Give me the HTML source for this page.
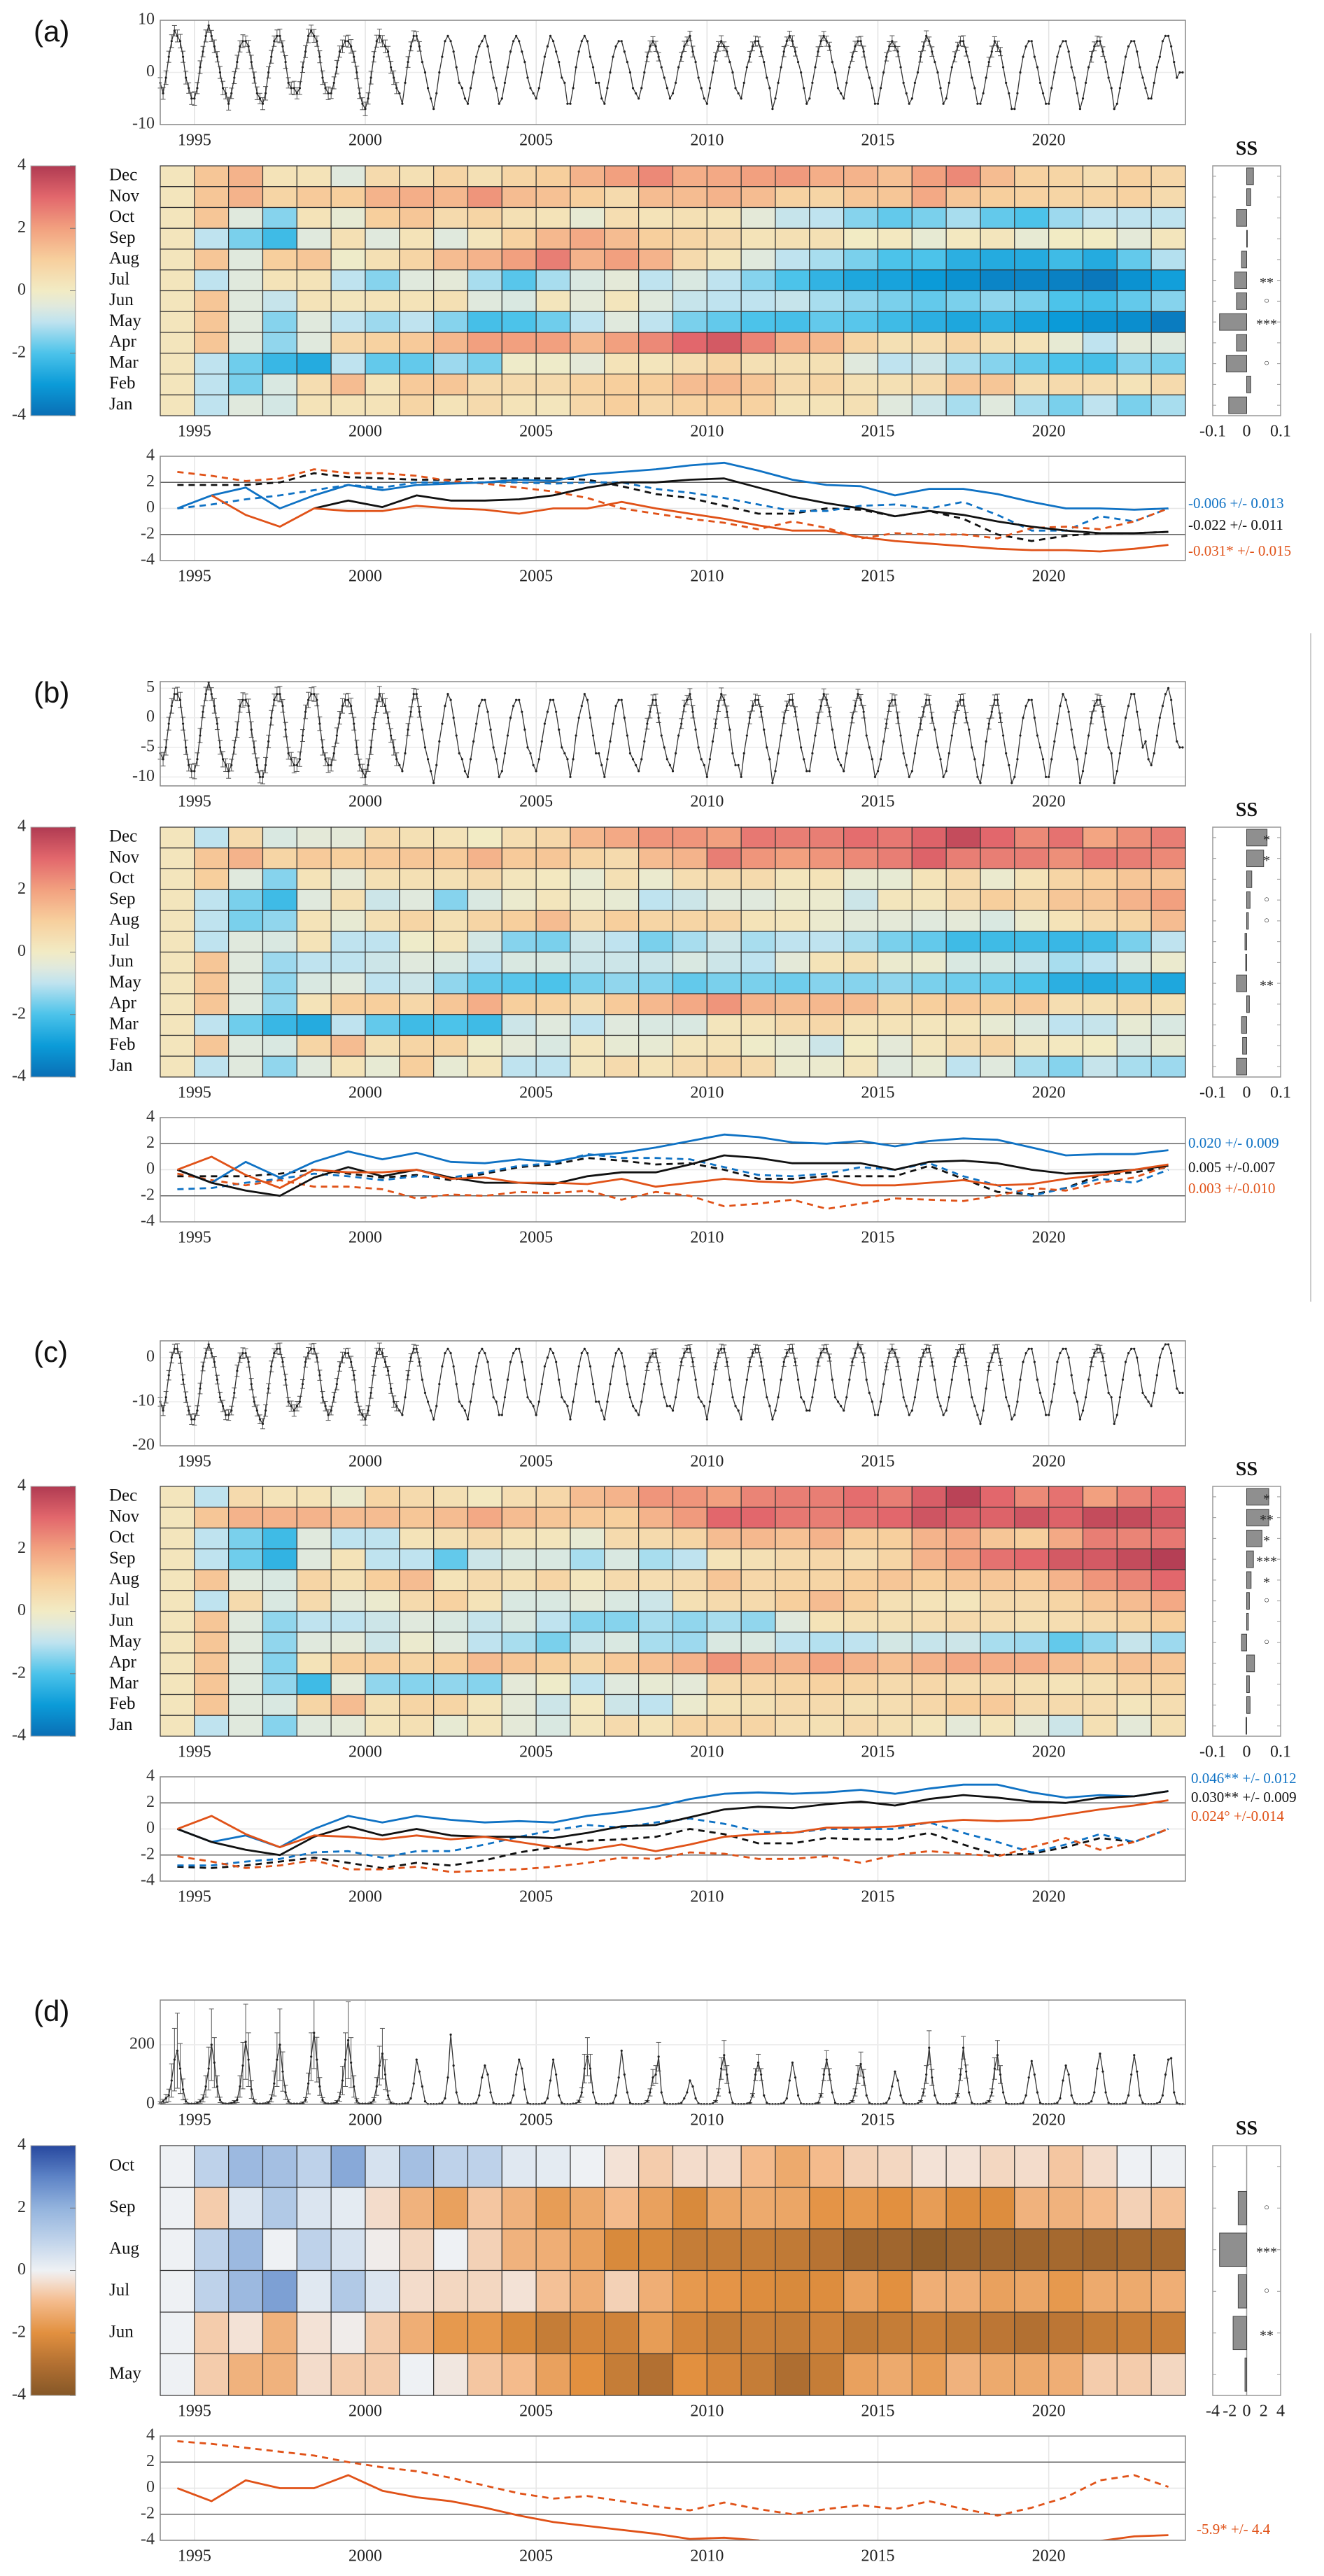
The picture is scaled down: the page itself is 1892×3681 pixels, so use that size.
<!DOCTYPE html>
<html><head><meta charset="utf-8"><title>Seasonal anomaly panels</title>
<style>
html,body{margin:0;padding:0;background:#fff;}
svg{display:block;font-family:"Liberation Serif",serif;}
.lab{font-family:"Liberation Sans",sans-serif;}
</style></head>
<body>
<svg id="fig" width="1892" height="3681" viewBox="0 0 1892 3681" xmlns="http://www.w3.org/2000/svg">
<defs>
<linearGradient id="gradRB" x1="0" y1="1" x2="0" y2="0">
<stop offset="0" stop-color="#0a6fb5"/><stop offset="0.125" stop-color="#0b9bd8"/><stop offset="0.25" stop-color="#4cc3ea"/><stop offset="0.375" stop-color="#bfe3ef"/><stop offset="0.4375" stop-color="#e0e9dd"/><stop offset="0.5" stop-color="#f2ebc4"/><stop offset="0.625" stop-color="#f7cf9d"/><stop offset="0.75" stop-color="#f2a07f"/><stop offset="0.875" stop-color="#e2676c"/><stop offset="1" stop-color="#b03a52"/>
</linearGradient>
<linearGradient id="gradD" x1="0" y1="1" x2="0" y2="0">
<stop offset="0" stop-color="#855727"/><stop offset="0.125" stop-color="#b27032"/><stop offset="0.25" stop-color="#e2903f"/><stop offset="0.375" stop-color="#f4bb8c"/><stop offset="0.4625" stop-color="#f3e2d6"/><stop offset="0.5" stop-color="#eef1f4"/><stop offset="0.625" stop-color="#bed2ea"/><stop offset="0.75" stop-color="#93b3dd"/><stop offset="0.875" stop-color="#5d83c6"/><stop offset="1" stop-color="#27489f"/>
</linearGradient>
</defs>
<line x1="1873" y1="905" x2="1873" y2="1860" stroke="#bbb" stroke-width="1.5"/>
</svg>
<script>
// ---------- DATA ----------
const years = [1994,1995,1996,1997,1998,1999,2000,2001,2002,2003,2004,2005,2006,2007,2008,2009,2010,2011,2012,2013,2014,2015,2016,2017,2018,2019,2020,2021,2022,2023];
const yearTicks = [1995,2000,2005,2010,2015,2020];
const monthsFull = ['Dec','Nov','Oct','Sep','Aug','Jul','Jun','May','Apr','Mar','Feb','Jan'];
const monthsD = ['Oct','Sep','Aug','Jul','Jun','May'];
const cbTicks = [4,2,0,-2,-4];
const lineTicks = [4,2,0,-2,-4];
const ssTicksABC = [-0.1,0,0.1];
const ssTickLabelsABC = ['-0.1','0','0.1'];
const ssTicksD = [-4,-2,0,2,4];
const ssTickLabelsD = ['-4','-2','0','2','4'];

// monthly time series (Jan..Dec per year, 1994-2023)
const tsA = [
-2,-4,-1,3,6,8,7,6,3,-1,-3,-5, -5,-3,1,4,7,9,7,5,3,0,-3,-4, -6,-4,-1,2,5,6,6,5,2,-1,-4,-5, -6,-4,0,3,6,7,7,5,2,-2,-3,-3,
-4,-3,1,4,7,8,7,6,3,-1,-3,-4, -4,-2,1,4,5,6,6,5,3,0,-4,-6, -7,-5,-1,3,6,7,6,5,4,1,-1,-3, -4,-6,-2,2,5,7,7,5,2,0,-3,-5,
-7,-4,0,3,6,7,6,4,1,-2,-3,-5, -6,-3,0,3,5,6,7,5,2,-1,-3,-6, -5,-2,1,4,6,7,6,4,2,-1,-3,-4, -5,-3,0,3,5,7,6,4,2,-1,-2,-6,
-6,-3,1,4,6,7,6,3,1,-2,-2,-5, -6,-3,0,3,5,6,6,4,2,0,-3,-4, -5,-3,0,3,5,6,5,3,1,-1,-3,-5, -4,-2,1,3,5,6,7,4,2,-1,-3,-5,
-6,-3,0,3,5,6,5,4,2,0,-3,-4, -5,-2,1,3,5,6,6,4,2,-1,-3,-7, -5,-2,1,4,6,7,6,4,2,0,-3,-6, -5,-2,1,4,6,7,6,5,2,0,-3,-4,
-5,-2,1,3,5,6,6,4,1,-1,-3,-6, -6,-3,0,3,5,6,5,4,1,-2,-4,-6, -5,-2,0,3,5,7,6,4,2,0,-3,-6, -5,-2,1,3,5,6,6,4,2,-1,-3,-6,
-6,-4,-1,2,4,6,5,4,1,-2,-4,-7, -7,-4,0,3,5,6,6,3,1,-2,-4,-6, -6,-3,0,3,5,6,6,4,1,-1,-4,-7, -5,-2,1,3,5,6,6,4,2,-1,-3,-7,
-6,-3,0,3,5,6,6,4,1,-1,-3,-5, -5,-2,1,3,6,7,7,5,2,-1,0,0];
const tsB = [
-6,-7,-5,-1,2,4,4,3,-1,-5,-8,-9, -9,-7,-3,1,4,6,4,2,-1,-5,-7,-8, -9,-8,-5,-2,2,3,3,2,-2,-5,-8,-10, -10,-8,-4,0,3,4,4,2,-2,-6,-7,-8,
-8,-7,-3,1,3,4,4,3,-1,-5,-7,-8, -8,-6,-3,0,2,3,3,2,-1,-5,-8,-9, -10,-8,-5,-1,2,4,3,2,0,-3,-5,-7, -8,-9,-6,-2,1,4,4,1,-2,-5,-7,-9,
-11,-8,-4,-1,2,4,3,0,-3,-6,-7,-9, -10,-7,-4,-1,2,3,3,1,-2,-5,-7,-10, -9,-6,-3,0,2,3,3,1,-2,-5,-6,-8, -9,-7,-4,-1,1,3,3,1,-2,-5,-6,-7,
-10,-7,-3,0,2,4,3,0,-3,-6,-6,-8, -10,-7,-4,-1,2,3,3,0,-3,-6,-7,-8, -9,-7,-4,-1,1,3,3,0,-3,-5,-7,-8, -9,-6,-3,-1,2,3,4,1,-2,-5,-7,-8,
-10,-7,-4,-1,2,4,3,1,-2,-6,-8,-8, -10,-6,-3,0,2,3,3,1,-2,-5,-7,-11, -9,-6,-3,0,2,3,3,1,-2,-5,-7,-9, -9,-6,-3,0,2,4,3,1,-2,-5,-7,-8,
-9,-6,-3,0,2,4,3,1,-3,-5,-7,-10, -9,-7,-4,-1,2,3,3,0,-3,-6,-8,-10, -9,-6,-3,-1,1,3,3,0,-2,-5,-7,-10, -9,-6,-3,0,2,3,3,0,-2,-5,-7,-10,
-11,-8,-4,-1,1,3,3,0,-3,-6,-8,-11, -10,-7,-3,0,2,3,3,0,-3,-5,-7,-10, -10,-7,-4,-1,2,4,3,1,-2,-5,-7,-11, -9,-6,-3,0,2,3,3,1,-2,-5,-6,-11,
-9,-6,-3,0,2,4,4,1,-2,-5,-4,-7, -8,-6,-3,0,2,4,5,3,-1,-4,-5,-5];
const tsC = [
-10,-12,-9,-4,0,2,2,0,-5,-9,-12,-14, -14,-12,-7,-2,1,3,1,-1,-5,-9,-11,-13, -13,-12,-8,-3,0,1,1,-1,-6,-10,-12,-14, -15,-12,-7,-2,1,2,2,-1,-5,-10,-11,-12,
-11,-10,-6,-1,1,2,2,0,-4,-9,-11,-13, -12,-9,-6,-2,0,1,1,-1,-4,-9,-12,-13, -14,-12,-8,-3,1,2,1,-1,-3,-7,-10,-11, -12,-13,-9,-4,0,2,2,-1,-5,-8,-10,-12,
-14,-11,-6,-2,1,2,1,-2,-6,-10,-11,-12, -14,-10,-6,-2,1,2,1,-1,-5,-9,-10,-13, -13,-9,-5,-1,1,2,2,-1,-5,-9,-10,-11, -13,-10,-6,-2,0,2,1,-1,-5,-9,-10,-11,
-14,-10,-6,-2,1,2,1,-2,-6,-10,-10,-12, -14,-10,-6,-2,1,2,1,-2,-6,-9,-11,-12, -13,-10,-6,-2,0,1,1,-2,-6,-9,-11,-11, -12,-9,-5,-1,1,2,2,-1,-5,-9,-10,-11,
-14,-10,-6,-2,1,2,2,-1,-5,-9,-11,-12, -14,-9,-5,-1,1,2,2,-1,-5,-9,-11,-14, -12,-9,-5,-1,1,2,2,-1,-5,-9,-10,-12, -12,-9,-5,-1,1,2,2,0,-5,-9,-10,-11,
-12,-9,-5,-1,1,3,2,0,-5,-8,-10,-13, -13,-10,-6,-2,1,2,1,-1,-5,-9,-11,-13, -12,-9,-5,-1,1,2,2,-1,-5,-9,-11,-13, -12,-9,-5,-1,1,2,2,-1,-5,-9,-11,-13,
-15,-12,-7,-2,0,2,2,-1,-5,-9,-11,-14, -13,-10,-5,-1,1,2,2,-1,-5,-8,-10,-13, -13,-10,-6,-1,1,2,2,0,-4,-8,-10,-14, -12,-9,-5,-1,1,2,2,0,-4,-8,-9,-15,
-13,-9,-5,-1,1,2,2,0,-4,-8,-9,-10, -11,-8,-4,0,2,3,3,1,-3,-7,-8,-8];
const tsD = [
5,10,20,30,80,150,180,120,50,10,2,2, 2,5,10,20,60,120,200,140,60,15,3,2, 2,4,8,15,60,130,210,150,50,10,2,2, 2,3,6,20,70,150,200,110,40,10,2,2,
2,2,5,15,70,160,240,150,60,15,3,2, 2,3,8,25,80,150,215,140,60,12,2,2, 2,2,5,15,60,130,170,100,30,5,2,1, 1,2,3,5,20,70,150,110,60,10,1,1,
1,1,2,5,20,90,234,130,40,5,1,1, 1,1,2,5,30,90,130,100,40,5,1,1, 1,1,2,5,30,100,150,120,50,5,1,1, 1,1,2,5,20,80,150,100,30,5,1,1,
1,2,3,10,40,120,160,120,40,5,1,1, 1,1,2,5,30,90,180,100,40,5,1,1, 1,1,2,10,40,90,100,160,40,5,1,1, 1,1,2,5,20,40,80,60,20,3,1,1,
1,1,3,10,40,120,165,100,40,5,1,1, 1,1,2,5,30,100,140,100,30,5,1,1, 1,1,2,5,20,80,140,90,30,3,1,1, 1,1,2,5,30,100,150,100,40,5,1,1,
1,1,3,10,40,100,135,90,30,5,1,1, 1,1,2,5,20,60,110,80,30,5,1,1, 1,1,3,10,40,100,190,90,30,5,1,1, 1,1,2,5,30,100,190,110,40,5,1,1,
1,2,5,10,40,120,165,100,40,5,1,1, 1,1,2,5,30,90,145,100,40,5,1,1, 1,1,2,5,20,80,130,100,30,5,1,1, 1,1,3,10,40,120,170,110,40,5,1,1,
1,1,2,5,30,100,165,110,30,5,1,1, 1,1,3,8,30,100,150,155,40,5,1,1];
// error bar half-width per year
const errA = [1,1,1,1,1,1,1,0.8,0,0,0,0,0,0,0.8,0.8,0.8,0.8,0.8,0.8,0.8,0.8,0.8,0.8,0.8,0,0,0.8,0,0];
const errB = [1,1,1,1,1,1,1,0.8,0,0,0,0,0,0,0.8,0.8,0.8,0.8,0.8,0.8,0.8,0.8,0.8,0.8,0.8,0,0,0.8,0,0];
const errC = [1,1,1,1,1,1,1,0.8,0,0,0,0,0,0,0.8,0.8,0.8,0.8,0.8,0.8,0.8,0.8,0.8,0.8,0.8,0,0,0.8,0,0];
const errD = [0.7,0.6,0.6,0.6,0.5,0.6,0.5,0,0,0,0,0,0.4,0,0.3,0,0.3,0.2,0,0.2,0.3,0,0.3,0.2,0.3,0,0,0,0,0];

// heatmaps, rows top->bottom (Dec..Jan), 30 columns 1994-2023
const heatA = [
[0.2,1.2,1.6,0.3,0.3,-0.5,0.6,0.4,0.8,0.4,0.8,1.0,1.6,2.0,2.4,1.7,1.8,2.0,2.1,1.7,1.6,1.3,2.0,2.4,1.4,0.9,0.8,0.5,0.9,0.7],
[0.2,1.2,1.6,0.8,1.1,1.0,1.6,1.7,1.5,2.2,1.4,1.3,1.0,0.6,1.4,1.4,1.6,1.4,0.9,0.8,1.2,1.2,1.8,1.2,1.0,0.9,0.8,0.8,0.9,0.6],
[0.2,1.2,-0.5,-1.5,0.3,-0.3,1.0,1.2,0.6,0.8,0.4,0.3,-0.3,0.5,0.3,0.4,0.3,-0.4,-0.9,-1.0,-1.5,-1.8,-1.6,-1.2,-1.8,-2.0,-1.3,-1.0,-1.0,-1.0],
[0.2,-1.0,-1.6,-2.2,-0.5,0.4,-0.5,0.3,-0.5,0.2,0.9,1.5,1.8,1.4,1.0,0.8,0.6,0.3,0.4,0.4,0.0,0.1,-0.3,0.1,0.2,-0.3,0.0,0.0,-0.4,0.2],
[0.2,1.2,-0.5,1.0,1.2,-0.1,0.4,0.8,1.4,1.6,2.0,2.6,1.6,2.0,1.6,0.6,0.2,-0.5,-1.0,-1.2,-1.6,-2.0,-2.0,-2.5,-2.6,-2.6,-2.2,-2.6,-1.8,-1.1],
[0.2,-1.0,-0.5,0.3,0.3,-1.0,-1.5,-0.5,-0.4,-1.2,-1.9,-1.2,-0.6,-0.4,-1.0,-0.6,-1.0,-1.5,-2.0,-2.4,-2.7,-2.8,-3.0,-3.2,-3.5,-3.5,-3.6,-3.8,-3.2,-2.9],
[0.2,1.2,-0.5,-0.9,0.3,0.2,0.3,0.3,0.4,-0.5,-0.6,0.2,-0.4,0.2,-0.5,-0.9,-1.0,-1.0,-0.9,-1.2,-1.4,-1.6,-1.8,-1.6,-1.4,-1.6,-2.0,-2.1,-1.8,-1.5],
[0.2,1.2,-0.5,-1.5,-0.5,-1.0,-1.3,-1.0,-1.5,-2.1,-2.0,-1.7,-1.0,-0.5,-1.0,-1.6,-1.8,-2.0,-2.1,-1.8,-1.9,-2.2,-2.5,-2.7,-2.5,-2.8,-3.0,-3.2,-3.3,-3.7],
[0.2,1.2,-0.5,-1.4,-0.5,0.7,0.9,1.1,1.5,2.0,2.0,2.0,1.5,2.0,2.4,3.0,3.3,2.5,1.7,1.5,0.8,0.4,0.5,0.8,0.4,0.3,-0.3,-1.0,-0.4,-0.5],
[0.2,-1.0,-1.7,-2.3,-2.6,-1.0,-1.8,-1.8,-1.3,-1.6,-0.1,-0.1,-0.4,0.3,0.2,0.5,0.8,0.4,0.4,0.4,-0.5,-1.0,-0.8,-1.2,-1.5,-1.8,-2.0,-2.1,-1.5,-1.6],
[0.2,-1.0,-1.6,-0.6,0.5,1.4,0.3,1.1,1.2,0.6,0.6,0.6,0.9,1.0,1.0,1.4,1.5,1.2,0.6,0.8,0.4,0.4,0.6,1.2,1.2,0.5,0.6,0.5,0.3,0.6],
[0.2,-1.0,-0.5,-0.7,0.3,0.3,0.3,0.8,0.3,0.6,0.3,0.2,0.7,1.0,0.7,0.9,1.0,0.9,0.3,0.3,0.4,-0.5,-0.8,-1.2,-0.5,-1.2,-1.6,-1.0,-1.6,-1.2]];
const heatB = [
[0.2,-1.0,0.6,-0.6,-0.4,-0.4,0.6,0.4,0.3,0.0,0.5,0.7,1.5,1.8,2.2,2.2,2.0,2.7,2.6,2.6,2.9,2.7,3.1,3.6,3.0,2.4,2.8,1.9,2.3,2.6],
[0.2,1.2,1.6,0.8,1.1,1.0,1.1,1.2,1.1,1.6,1.1,1.2,0.8,0.6,1.4,1.6,2.6,2.2,2.0,2.2,2.4,2.6,3.1,2.6,2.6,2.6,2.3,2.7,2.6,2.4],
[0.2,1.0,-0.5,-1.5,0.3,-0.4,0.4,0.4,0.4,0.6,0.2,0.1,-0.3,0.4,-0.2,0.5,0.6,0.6,0.2,0.3,-0.3,-0.3,0.3,0.6,-0.2,0.3,0.8,1.0,1.2,1.2],
[0.2,-1.0,-1.6,-2.2,-0.5,0.4,-0.8,-0.5,-1.5,-0.6,-0.2,0.2,-0.2,-0.3,-1.0,-0.8,-0.5,-0.5,-0.2,-0.2,-0.8,0.2,0.2,0.6,1.0,0.8,1.2,1.2,1.6,2.0],
[0.2,-1.0,-1.6,-1.4,0.3,-0.3,0.4,0.8,0.4,0.8,1.0,1.4,0.6,1.0,0.8,0.8,0.8,0.3,0.2,-0.2,-0.4,-0.4,-0.5,-0.4,-0.6,-0.2,0.3,0.6,0.8,1.4],
[0.2,-1.0,-0.5,-0.6,0.3,-1.0,-1.0,-0.1,0.2,-0.7,-1.5,-1.6,-0.8,-1.0,-1.6,-1.2,-0.8,-1.2,-1.0,-1.0,-1.2,-1.6,-1.8,-2.2,-2.2,-2.2,-2.3,-2.2,-1.6,-1.0],
[0.2,1.2,-0.5,-1.3,-1.0,-1.0,-0.8,-0.5,-0.6,-1.0,-0.6,-0.6,-0.8,-0.8,-0.8,-0.6,-0.8,-1.0,-0.4,0.3,0.4,-0.2,-0.2,-0.6,-0.6,-0.8,-1.2,-1.0,-0.5,-0.2],
[0.2,1.2,-0.5,-1.4,-0.6,-0.5,-1.0,-0.8,-1.4,-1.8,-1.9,-2.0,-1.6,-1.4,-1.5,-1.8,-1.6,-1.6,-1.7,-1.5,-1.5,-1.4,-1.6,-1.7,-1.8,-2.0,-2.5,-2.6,-2.4,-2.7],
[0.2,1.2,-0.5,-1.4,0.3,1.0,1.0,0.7,1.2,1.7,1.0,0.9,0.6,1.1,1.5,1.8,2.2,1.6,1.4,1.5,1.4,0.8,1.0,1.1,1.0,1.1,0.5,0.4,0.6,0.4],
[0.2,-1.0,-1.7,-2.3,-2.6,-1.0,-1.8,-2.2,-2.0,-2.2,-0.8,-0.5,-1.0,-0.5,-0.6,-0.6,0.2,0.3,0.6,0.7,0.3,0.3,0.2,0.2,-0.3,-0.6,-1.0,-0.9,-0.3,-0.6],
[0.2,1.2,-0.5,-0.6,0.8,1.4,0.4,0.8,0.8,-0.1,-0.4,-0.6,0.2,-0.3,-0.3,0.2,0.3,-0.1,-0.3,-0.8,0.0,-0.4,0.2,0.6,0.8,0.2,0.1,0.0,-0.6,-0.3],
[0.2,-1.0,-0.5,-1.4,-0.5,0.3,-0.3,1.0,-0.3,0.2,-1.0,-1.0,0.2,0.6,0.3,0.6,0.8,0.6,-0.2,-0.2,0.2,-0.5,-0.3,-1.0,-0.5,-1.2,-1.5,-0.9,-1.2,-1.3]];
const heatC = [
[0.2,-1.0,0.6,0.3,0.3,-0.2,0.8,0.6,0.4,0.1,0.5,0.7,1.4,1.6,2.2,2.2,2.0,2.5,2.6,2.6,2.9,2.6,3.2,3.8,3.0,2.4,2.8,2.0,2.5,2.9],
[0.2,1.2,1.6,1.6,1.6,1.4,1.4,1.2,1.4,1.8,1.4,1.2,1.1,1.0,1.6,2.1,3.0,3.0,2.7,2.6,2.8,3.0,3.4,3.2,3.1,3.4,3.1,3.6,3.6,3.3],
[0.2,-1.0,-1.6,-2.2,-0.5,-1.0,-1.0,0.3,0.4,0.6,0.3,0.2,-0.3,0.6,0.6,0.8,1.4,1.5,1.3,1.6,1.0,1.0,1.6,1.8,1.2,1.0,1.8,2.6,2.5,2.7],
[0.2,-1.0,-1.7,-2.4,-0.5,0.3,-1.0,-1.0,-1.8,-0.8,-0.6,-0.6,-1.2,-0.6,-1.2,-1.0,0.3,0.4,0.6,0.7,0.5,0.8,1.6,2.0,2.8,3.0,3.3,3.3,3.6,3.9],
[0.2,1.2,-0.5,-0.6,0.8,0.4,1.0,1.4,0.3,0.6,0.4,0.8,0.2,0.6,0.5,0.6,1.2,0.7,0.8,0.8,1.0,1.2,1.0,1.2,1.2,1.1,1.6,2.2,2.5,3.0],
[0.2,-1.0,0.6,-0.6,0.6,-0.4,-0.2,0.6,0.9,0.3,-0.6,-0.6,-0.4,-0.6,-0.8,0.4,0.6,0.6,1.0,1.4,1.0,0.4,0.3,0.2,0.6,0.6,0.8,1.2,1.4,1.8],
[0.2,1.2,-0.5,-1.4,-1.0,-1.0,-0.8,-0.5,-0.6,-0.9,-0.6,-1.0,-1.5,-1.5,-1.2,-1.4,-1.2,-1.4,-0.5,0.3,0.4,0.4,0.5,0.6,0.5,0.4,0.5,0.6,0.8,1.0],
[0.2,1.2,-0.5,-1.4,-0.5,-0.4,-0.8,-0.2,-0.5,-1.0,-1.2,-1.6,-0.8,-0.6,-1.2,-1.3,-0.6,-0.6,-1.0,-1.1,-1.0,-0.7,-0.9,-0.8,-1.2,-1.3,-1.8,-1.4,-0.9,-1.3],
[0.2,1.2,-0.5,-1.5,0.3,1.0,1.0,0.8,1.0,1.4,1.2,1.0,0.8,1.1,1.3,1.6,2.2,1.7,1.6,1.9,1.6,1.3,1.6,1.8,1.7,1.7,1.4,1.1,1.3,1.2],
[0.2,1.2,-0.5,-1.4,-2.2,-0.4,-1.4,-1.5,-1.4,-1.5,-0.4,-0.1,-1.0,-0.5,-0.3,-0.4,0.6,0.7,0.8,0.9,0.8,0.6,0.7,0.5,0.5,0.4,0.3,0.4,0.7,0.8],
[0.2,1.2,-0.5,-0.6,0.8,1.4,0.4,0.8,0.8,0.2,-0.4,-0.8,0.1,-0.8,-1.0,-0.2,0.3,0.4,0.6,0.6,0.4,0.5,0.7,1.0,1.1,0.6,0.6,0.5,0.2,0.5],
[0.2,-1.0,-0.5,-1.5,-0.5,-0.4,0.2,0.4,-0.3,0.2,-0.4,-0.6,0.2,0.6,0.3,0.8,0.8,0.8,0.5,0.4,0.6,0.4,0.2,-0.4,0.2,-0.4,-0.8,0.4,-0.4,0.4]];
const heatD = [
[0,1.0,1.8,1.6,1.0,2.2,0.5,1.6,1.0,1.0,0.3,0.2,0.0,-0.3,-0.7,-0.4,-0.4,-1.0,-1.4,-1.0,-0.6,-0.5,-0.3,-0.3,-0.5,-0.4,-0.8,-0.4,0.0,0.0],
[0,-0.7,0.4,1.3,0.4,0.2,-0.4,-1.2,-1.6,-0.8,-1.2,-1.7,-1.4,-1.0,-1.6,-2.2,-1.5,-1.4,-1.5,-1.9,-1.8,-2.0,-1.7,-2.1,-2.1,-1.2,-1.2,-1.0,-0.6,-0.9],
[0,1.0,1.8,0.0,1.0,0.5,-0.1,-0.5,0.0,-0.6,-1.2,-1.3,-1.6,-2.2,-2.2,-2.6,-2.6,-2.6,-2.7,-2.9,-3.4,-3.4,-3.7,-3.5,-3.4,-3.4,-3.3,-3.4,-3.3,-3.3],
[0,1.0,1.8,2.4,0.3,1.3,0.4,-0.4,-0.5,-0.5,-0.3,-0.9,-1.3,-0.6,-1.3,-1.8,-1.9,-2.1,-2.2,-2.1,-1.6,-2.0,-1.3,-1.3,-1.6,-1.5,-1.8,-1.4,-1.4,-1.3],
[0,-0.7,-0.3,-1.2,-0.3,-0.1,-0.7,-1.3,-1.8,-1.8,-2.2,-2.6,-2.3,-2.4,-1.7,-2.3,-2.6,-2.5,-2.6,-2.4,-2.7,-2.6,-2.5,-2.7,-2.8,-3.0,-2.8,-2.6,-2.5,-2.5],
[0,-0.7,-1.2,-1.2,-0.4,-0.7,-0.7,0.0,-0.2,-0.8,-1.0,-1.6,-2.0,-2.6,-3.0,-2.0,-2.3,-2.6,-3.1,-2.6,-1.6,-1.4,-1.7,-1.2,-1.4,-1.4,-1.3,-0.7,-0.7,-0.5]];

// SS bars (same row order as heatmaps) and significance marks
const ssA = [0.02,0.012,-0.03,0.002,-0.015,-0.035,-0.03,-0.08,-0.03,-0.06,0.012,-0.053];
const sigA = ['','','','','','**','\u25CB','***','','\u25CB','',''];
const ssB = [0.06,0.05,0.015,0.01,0.005,-0.005,-0.003,-0.03,0.008,-0.015,-0.012,-0.03];
const sigB = ['*','*','','\u25CB','\u25CB','','','**','','','',''];
const ssC = [0.065,0.065,0.045,0.02,0.013,0.008,0.005,-0.015,0.023,0.008,0.01,-0.002];
const sigC = ['*','**','*','***','*','\u25CB','','\u25CB','','','',''];
const ssD = [0,-1.0,-3.2,-1.0,-1.6,-0.2];
const sigD = ['','\u25CB','***','\u25CB','**',''];

// anomaly lines (30 yearly values, null = no value)
const blueSolidA = [0,1.0,1.6,0,1.0,1.8,1.4,1.8,1.9,2.0,2.2,2.1,2.6,2.8,3.0,3.3,3.5,2.9,2.2,1.8,1.7,1.0,1.5,1.5,1.1,0.5,0.0,0.0,-0.1,0];
const blackSolidA = [null,null,null,null,0,0.6,0.1,1.0,0.6,0.6,0.7,1.0,1.6,2.0,2.0,2.2,2.3,1.6,0.9,0.4,0.0,-0.6,-0.2,-0.5,-1.0,-1.4,-1.7,-1.9,-1.9,-1.8];
const orangeSolidA = [null,1.0,-0.5,-1.4,0.0,-0.2,-0.2,0.2,0.0,-0.1,-0.4,0.0,0.0,0.5,0.0,-0.4,-0.8,-1.3,-1.7,-1.7,-2.2,-2.5,-2.7,-2.9,-3.1,-3.2,-3.2,-3.3,-3.1,-2.8];
const blueDashA = [0,0.3,0.7,1.0,1.4,1.8,1.6,2.0,2.0,2.0,2.0,1.9,2.0,2.0,1.5,1.2,0.8,0.3,-0.2,-0.2,0.2,0.3,0.0,0.5,-0.5,-1.7,-1.7,-0.6,-1.0,0.0];
const blackDashA = [1.8,1.8,1.8,2.0,2.7,2.4,2.3,2.2,2.2,2.3,2.3,2.3,2.2,1.7,1.1,0.8,0.2,-0.4,-0.4,0.0,-0.1,-0.6,-0.2,-0.8,-2.0,-2.5,-2.1,-1.9,-1.9,-1.8];
const orangeDashA = [2.8,2.5,2.1,2.3,3.0,2.7,2.7,2.5,2.1,1.9,1.6,1.3,0.8,0.0,-0.4,-0.8,-1.1,-1.6,-1.0,-1.5,-2.3,-1.9,-2.0,-2.0,-2.3,-1.5,-1.4,-1.6,-1.0,0.0];
const blueSolidB = [0,-1.0,0.6,-0.6,0.6,1.4,0.8,1.3,0.6,0.5,0.8,0.6,1.1,1.3,1.7,2.2,2.7,2.5,2.1,2.0,2.2,1.8,2.2,2.4,2.3,1.7,1.1,1.2,1.2,1.5];
const blackSolidB = [0,-1.0,-1.6,-2.0,-0.6,0.2,-0.5,0.0,-0.6,-1.0,-1.0,-1.1,-0.5,-0.2,-0.2,0.4,1.1,0.9,0.5,0.5,0.5,0.0,0.6,0.7,0.5,0.0,-0.3,-0.2,0.0,0.3];
const orangeSolidB = [0,1.0,-0.4,-1.4,0.0,-0.2,-0.2,0.0,-0.7,-0.6,-1.0,-1.0,-1.1,-0.7,-1.3,-1.0,-0.7,-0.9,-1.0,-0.7,-1.2,-1.2,-1.0,-0.8,-1.2,-1.1,-0.7,-0.4,0.0,0.4];
const blueDashB = [-1.5,-1.4,-1.0,-0.7,-0.3,-0.5,-0.8,-0.5,-0.6,-0.2,0.3,0.5,1.2,0.9,0.9,0.8,0.2,-0.4,-0.5,-0.3,0.2,0.0,0.5,-0.5,-1.2,-2.0,-1.4,-0.7,-1.0,0.0];
const blackDashB = [-0.5,-0.5,-0.5,-0.3,0.0,-0.3,-0.6,-0.4,-0.8,-0.3,0.2,0.4,0.9,0.7,0.4,0.5,0.0,-0.7,-0.7,-0.5,-0.5,-0.5,0.3,-0.7,-1.7,-1.9,-1.4,-0.4,-0.2,0.2];
const orangeDashB = [-0.3,-0.8,-1.2,-0.8,-1.3,-1.3,-1.5,-2.2,-1.9,-2.0,-1.7,-1.8,-1.6,-2.3,-1.7,-2.0,-2.8,-2.6,-2.3,-3.0,-2.6,-2.2,-2.3,-2.4,-2.0,-1.4,-1.6,-1.0,-0.6,0.3];
const blueSolidC = [0,-1.0,-0.5,-1.4,0.0,1.0,0.5,1.0,0.7,0.5,0.6,0.5,1.0,1.3,1.7,2.3,2.7,2.8,2.7,2.8,3.0,2.7,3.1,3.4,3.4,2.8,2.4,2.6,2.5,2.9];
const blackSolidC = [0,-1.0,-1.6,-2.0,-0.6,0.2,-0.5,0.0,-0.5,-0.6,-0.6,-0.7,-0.3,0.2,0.3,0.9,1.5,1.7,1.6,1.9,2.1,1.8,2.3,2.6,2.4,2.1,2.0,2.4,2.5,2.9];
const orangeSolidC = [0,1.0,-0.4,-1.4,-0.5,-0.6,-0.8,-0.5,-0.8,-0.6,-1.0,-1.4,-1.6,-1.2,-1.7,-1.2,-0.6,-0.4,-0.3,0.1,0.1,0.2,0.5,0.7,0.6,0.7,1.1,1.5,1.8,2.2];
const blueDashC = [-2.8,-2.8,-2.5,-2.3,-1.8,-1.7,-2.2,-1.7,-1.7,-1.2,-0.6,-0.1,0.3,0.1,0.5,0.8,0.4,-0.2,-0.3,0.0,0.0,0.0,0.5,-0.3,-1.0,-1.8,-1.2,-0.4,-1.0,0.0];
const blackDashC = [-2.9,-3.0,-2.8,-2.5,-2.2,-2.6,-3.0,-2.6,-2.8,-2.4,-1.8,-1.4,-0.9,-0.8,-0.6,0.0,-0.4,-1.1,-1.1,-0.7,-0.8,-0.8,-0.3,-1.2,-2.0,-1.9,-1.4,-0.7,-1.0,0.0];
const orangeDashC = [-2.1,-2.5,-3.0,-2.8,-2.4,-3.1,-3.1,-2.9,-3.3,-3.2,-3.1,-2.9,-2.6,-2.2,-2.3,-1.8,-1.9,-2.3,-2.3,-2.1,-2.6,-2.0,-1.7,-1.9,-2.1,-1.4,-0.7,-1.6,-1.0,0.0];
const orangeSolidD = [0,-1.0,0.6,0.0,0.0,1.0,-0.2,-0.7,-1.0,-1.5,-2.1,-2.6,-2.9,-3.2,-3.5,-3.9,-3.8,-4.0,-4.8,-4.8,-4.8,-4.8,-4.8,-4.8,-4.8,-4.8,-4.8,-4.05,-3.7,-3.6];
const orangeDashD = [3.6,3.4,3.1,2.8,2.5,2.0,1.6,1.3,0.8,0.2,-0.4,-0.8,-0.6,-1.0,-1.4,-1.7,-1.1,-1.6,-2.0,-1.6,-1.3,-1.6,-1.0,-1.6,-2.1,-1.5,-0.7,0.6,1.0,0.1];

const trendTextA = ['-0.006 +/- 0.013','-0.022 +/- 0.011','-0.031* +/- 0.015'];
const trendTextB = ['0.020 +/- 0.009','0.005 +/-0.007','0.003 +/-0.010'];
const trendTextC = ['0.046** +/- 0.012','0.030** +/- 0.009','0.024\u00B0 +/-0.014'];
const trendTextD = ['-5.9* +/- 4.4'];

// ---------- DRAWING ----------
const NS='http://www.w3.org/2000/svg';
const svg=document.getElementById('fig');
const X0=229, X1=1694, CW=(X1-X0)/years.length;
const BLUE='#0f72c4', ORANGE='#e05218', BLACK='#111';
function xYear(y){return X0+(y-years[0])*CW;}
function xCol(i){return X0+(i+0.5)*CW;}
function mk(tag,attrs,parent){const e=document.createElementNS(NS,tag);for(const k in attrs)e.setAttribute(k,attrs[k]);(parent||svg).appendChild(e);return e;}
function hex2rgb(h){return [parseInt(h.slice(1,3),16),parseInt(h.slice(3,5),16),parseInt(h.slice(5,7),16)];}
const stopsRB=[[-4,'#0a6fb5'],[-3,'#0b9bd8'],[-2,'#4cc3ea'],[-1,'#bfe3ef'],[-0.5,'#e0e9dd'],[0,'#f2ebc4'],[1,'#f7cf9d'],[2,'#f2a07f'],[3,'#e2676c'],[4,'#b03a52']];
const stopsD=[[-4,'#855727'],[-3,'#b27032'],[-2,'#e2903f'],[-1,'#f4bb8c'],[-0.3,'#f3e2d6'],[0,'#eef1f4'],[1,'#bed2ea'],[2,'#93b3dd'],[3,'#5d83c6'],[4,'#27489f']];
function cmap(stops,v){v=Math.max(-4,Math.min(4,v));for(let i=0;i<stops.length-1;i++){const a=stops[i],b=stops[i+1];if(v>=a[0]&&v<=b[0]){const t=(v-a[0])/(b[0]-a[0]);const ca=hex2rgb(a[1]),cb=hex2rgb(b[1]);return 'rgb('+ca.map((c,j)=>Math.round(c+(cb[j]-c)*t)).join(',')+')';}}return stops[stops.length-1][1];}
function txt(x,y,s,size,anchor,fill,parent){const t=mk('text',{x:x,y:y,'font-size':size,'text-anchor':anchor||'middle','dominant-baseline':'middle',fill:fill||'#222'},parent);t.textContent=s;return t;}

function panel(P){
  const g=mk('g',{});
  
  
  const lab=mk('text',{x:48,y:P.tsTop+30,'font-size':42,class:'lab',fill:'#111'},g);
  lab.textContent='('+P.key+')';
  
  

  // ---- time series ----
  const ts=mk('g',{},g);
  
  
  const yT=v=>P.tsBot-(v-P.tsMin)/(P.tsMax-P.tsMin)*(P.tsBot-P.tsTop);
  yearTicks.forEach(y=>{const l=mk('line',{x1:xYear(y),x2:xYear(y),y1:P.tsTop,y2:P.tsBot,stroke:'#e2e2e2','stroke-width':1.5},ts);});
  P.tsTicks.forEach(v=>{const l=mk('line',{x1:X0,x2:X1,y1:yT(v),y2:yT(v),stroke:'#ececec','stroke-width':1.5},ts);
    const t=txt(221,yT(v),String(v),24,'end','#333',ts);});
  let d='';
  P.ts.forEach((v,i)=>{const x=X0+(i/12)*CW, y=yT(v); d+=(i?'L':'M')+x.toFixed(1)+' '+y.toFixed(1);});
  const eg=mk('g',{stroke:'#555','stroke-width':1},ts);
  
  
  P.ts.forEach((v,i)=>{const yr=Math.floor(i/12), m=i%12; let e=P.err[yr]; if(!e)return;
    if(yr>=7 && (m<3||m>7))return;
    const half=P.errFrac? v*e : e*(1+0.3*((i*7)%5)/4);
    if(half<=0)return;
    const x=X0+(i/12)*CW, y1=yT(Math.min(P.tsMax,v+half)), y2=yT(Math.max(P.tsMin,v-half));
    mk('line',{x1:x,x2:x,y1:y1,y2:y2},eg);mk('line',{x1:x-3.5,x2:x+3.5,y1:y1,y2:y1},eg);mk('line',{x1:x-3.5,x2:x+3.5,y1:y2,y2:y2},eg);});
  const pl=mk('path',{d:d,fill:'none',stroke:'#333','stroke-width':1.3},ts);
  
  
  const dots=mk('g',{fill:'#222'},ts);
  
  
  P.ts.forEach((v,i)=>{mk('circle',{cx:X0+(i/12)*CW,cy:yT(v),r:1.6},dots);});
  const tb=mk('rect',{x:X0,y:P.tsTop,width:X1-X0,height:P.tsBot-P.tsTop,fill:'none',stroke:'#888','stroke-width':1.5},ts);
  
  
  yearTicks.forEach(y=>{const t=txt(xYear(y),P.tsBot+24,String(y),24,'middle','#222',ts);});

  // ---- colorbar ----
  const cb=mk('rect',{x:44,y:P.hTop,width:64,height:P.hBot-P.hTop,fill:'url(#'+P.grad+')',stroke:'#aaa','stroke-width':1},g);
  
  
  cbTicks.forEach(v=>{const y=P.hBot-(v+4)/8*(P.hBot-P.hTop);
    const tk=mk('line',{x1:100,x2:108,y1:y,y2:y,stroke:'#777'},g);
    const t=txt(37,y,String(v),24,'end','#333',g);});

  // ---- heatmap ----
  const hm=mk('g',{},g);
  
  
  const nR=P.heat.length, rh=(P.hBot-P.hTop)/nR;
  P.heat.forEach((row,r)=>{row.forEach((v,c)=>{
    const cell=mk('rect',{x:X0+c*CW,y:P.hTop+r*rh,width:CW,height:rh,fill:cmap(P.stops,v),stroke:'#333','stroke-width':1.2},hm);
    
    });
    const ml=txt(156,P.hTop+(r+0.5)*rh,P.months[r],25,'start','#111',hm);
    
    });
  yearTicks.forEach(y=>{const t=txt(xYear(y),P.hBot+24,String(y),24,'middle','#222',hm);});

  // ---- SS bars ----
  const ss=mk('g',{},g);
  
  
  const SL=1733, SR=1830, sMax=P.ssTicks[P.ssTicks.length-1];
  const xS=v=>SL+(v+sMax)/(2*sMax)*(SR-SL);
  const st=mk('text',{x:(SL+SR)/2,y:P.hTop-16,'font-size':28,'font-weight':'bold','text-anchor':'middle',fill:'#111'},ss);
  st.textContent='SS';
  
  
  mk('rect',{x:SL,y:P.hTop,width:SR-SL,height:P.hBot-P.hTop,fill:'#fff',stroke:'#999','stroke-width':1.5},ss);
  if(P.key==='d'){const zl=mk('line',{x1:xS(0),x2:xS(0),y1:P.hTop,y2:P.hBot,stroke:'#999','stroke-width':1.5},ss);}
  P.ss.forEach((v,r)=>{const yc=P.hTop+(r+0.5)*rh;
    mk('line',{x1:SL,x2:SL+5,y1:yc,y2:yc,stroke:'#999'},ss);mk('line',{x1:SR-5,x2:SR,y1:yc,y2:yc,stroke:'#999'},ss);
    if(v!==0){const b=mk('rect',{x:Math.min(xS(0),xS(v)),y:yc-rh*0.4,width:Math.abs(xS(v)-xS(0)),height:rh*0.8,fill:'#8f8f8f',stroke:'#444','stroke-width':1},ss);
      
      }
    if(P.sig[r]){const s=txt(1810,yc+(P.sig[r]==='\u25CB'?0:5),P.sig[r],P.sig[r]==='\u25CB'?13:20,'middle','#222',ss);}});
  P.ssTicks.forEach((v,i)=>{const t=txt(xS(v),P.hBot+24,P.ssTickLabels[i],24,'middle','#222',ss);});

  // ---- anomaly lines ----
  const lg=mk('g',{},g);
  
  
  const yL=v=>P.lTop+(4-v)/8*(P.lBot-P.lTop);
  const clip=mk('clipPath',{id:'clip'+P.key},lg);
  mk('rect',{x:X0,y:P.lTop,width:X1-X0,height:P.lBot-P.lTop},clip);
  yearTicks.forEach(y=>{const l=mk('line',{x1:xYear(y),x2:xYear(y),y1:P.lTop,y2:P.lBot,stroke:'#e6e6e6','stroke-width':1.5},lg);});
  const z=mk('line',{x1:X0,x2:X1,y1:yL(0),y2:yL(0),stroke:'#e6e6e6','stroke-width':1.5},lg);
  
  
  [2,-2].forEach(v=>{const l=mk('line',{x1:X0,x2:X1,y1:yL(v),y2:yL(v),stroke:'#666','stroke-width':1.6},lg);});
  lineTicks.forEach(v=>{const t=txt(221,yL(v),String(v),24,'end','#333',lg);});
  P.series.forEach(s=>{let d='',pen=false;
    s.vals.forEach((v,i)=>{if(v===null){pen=false;return;} d+=(pen?'L':'M')+xCol(i).toFixed(1)+' '+yL(v).toFixed(1); pen=true;});
    const p=mk('path',{d:d,fill:'none',stroke:s.color,'stroke-width':2.8,'stroke-dasharray':s.dash?'9 7':'none','clip-path':'url(#clip'+P.key+')','stroke-linejoin':'round'},lg);
    
    });
  const lb=mk('rect',{x:X0,y:P.lTop,width:X1-X0,height:P.lBot-P.lTop,fill:'none',stroke:'#888','stroke-width':1.5},lg);
  
  
  yearTicks.forEach(y=>{const t=txt(xYear(y),P.lBot+24,String(y),24,'middle','#222',lg);});
  P.trends.forEach((s,i)=>{const t=txt(P.trendX,P.lTop+P.trendDy[i],s,21,'start',P.trendColors[i],lg);});
}

panel({key:'a',tsTop:29,tsBot:178,tsMin:-10,tsMax:10,tsTicks:[-10,0,10],ts:tsA,err:errA,
  hTop:237,hBot:594,heat:heatA,months:monthsFull,stops:stopsRB,grad:'gradRB',
  ss:ssA,sig:sigA,ssTicks:ssTicksABC,ssTickLabels:ssTickLabelsABC,lTop:652,lBot:801,
  series:[{vals:blackDashA,color:BLACK,dash:1,name:'black-dashed-line'},{vals:blueDashA,color:BLUE,dash:1,name:'blue-dashed-line'},{vals:orangeDashA,color:ORANGE,dash:1,name:'orange-dashed-line'},
          {vals:blueSolidA,color:BLUE,name:'blue-solid-line'},{vals:blackSolidA,color:BLACK,name:'black-solid-line'},{vals:orangeSolidA,color:ORANGE,name:'orange-solid-line'}],
  trends:trendTextA,trendX:1698,trendDy:[69,100,137],trendColors:[BLUE,BLACK,ORANGE]});
panel({key:'b',tsTop:974,tsBot:1123,tsMin:-11.5,tsMax:6.1,tsTicks:[-10,-5,0,5],ts:tsB,err:errB,
  hTop:1182,hBot:1539,heat:heatB,months:monthsFull,stops:stopsRB,grad:'gradRB',
  ss:ssB,sig:sigB,ssTicks:ssTicksABC,ssTickLabels:ssTickLabelsABC,lTop:1597,lBot:1746,
  series:[{vals:blackDashB,color:BLACK,dash:1,name:'black-dashed-line'},{vals:blueDashB,color:BLUE,dash:1,name:'blue-dashed-line'},{vals:orangeDashB,color:ORANGE,dash:1,name:'orange-dashed-line'},
          {vals:blueSolidB,color:BLUE,name:'blue-solid-line'},{vals:blackSolidB,color:BLACK,name:'black-solid-line'},{vals:orangeSolidB,color:ORANGE,name:'orange-solid-line'}],
  trends:trendTextB,trendX:1698,trendDy:[38,73,103],trendColors:[BLUE,BLACK,ORANGE]});
panel({key:'c',tsTop:1916,tsBot:2066,tsMin:-20,tsMax:3.8,tsTicks:[-20,-10,0],ts:tsC,err:errC,
  hTop:2124,hBot:2481,heat:heatC,months:monthsFull,stops:stopsRB,grad:'gradRB',
  ss:ssC,sig:sigC,ssTicks:ssTicksABC,ssTickLabels:ssTickLabelsABC,lTop:2539,lBot:2688,
  series:[{vals:blackDashC,color:BLACK,dash:1,name:'black-dashed-line'},{vals:blueDashC,color:BLUE,dash:1,name:'blue-dashed-line'},{vals:orangeDashC,color:ORANGE,dash:1,name:'orange-dashed-line'},
          {vals:blueSolidC,color:BLUE,name:'blue-solid-line'},{vals:blackSolidC,color:BLACK,name:'black-solid-line'},{vals:orangeSolidC,color:ORANGE,name:'orange-solid-line'}],
  trends:trendTextC,trendX:1702,trendDy:[4,31,58],trendColors:[BLUE,BLACK,ORANGE]});
panel({key:'d',tsTop:2858,tsBot:3007,tsMin:0,tsMax:350,tsTicks:[0,200],ts:tsD,err:errD,errFrac:1,
  hTop:3066,hBot:3423,heat:heatD,months:monthsD,stops:stopsD,grad:'gradD',
  ss:ssD,sig:sigD,ssTicks:ssTicksD,ssTickLabels:ssTickLabelsD,lTop:3481,lBot:3630,
  series:[{vals:orangeDashD,color:ORANGE,dash:1,name:'orange-dashed-line'},{vals:orangeSolidD,color:ORANGE,name:'orange-solid-line'}],
  trends:trendTextD,trendX:1710,trendDy:[135],trendColors:[ORANGE]});
</script>
</body></html>
